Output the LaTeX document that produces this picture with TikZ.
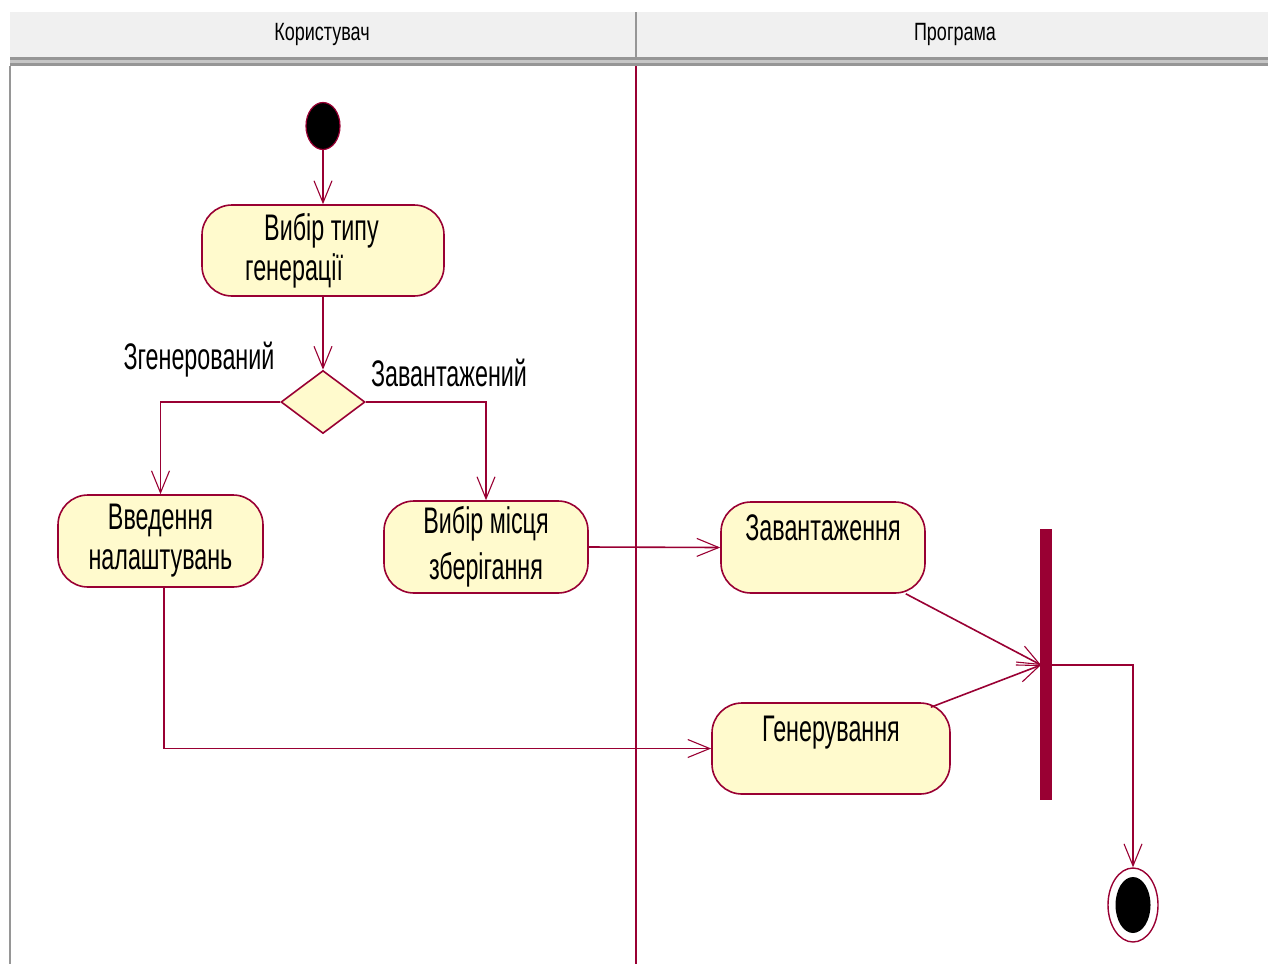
\documentclass[tikz,border=0pt]{standalone}
\usepackage{fontspec}
\setmainfont[FakeStretch=0.63]{Liberation Sans}
\newfontfamily\lanefont[FakeStretch=0.72]{Liberation Sans}
\usetikzlibrary{arrows.meta,shapes.geometric}
\definecolor{rose}{RGB}{153,0,51}
\definecolor{actfill}{RGB}{255,250,205}
\definecolor{hdrfill}{RGB}{240,240,240}
\definecolor{hdrline}{RGB}{150,150,150}
\tikzset{
  flow/.style={draw=rose, line width=1.6pt,
    -{Straight Barb[length=22pt,width=18pt,line width=1.1pt]}},
  act/.style={draw=rose, fill=actfill, line width=1.6pt, rounded corners=30pt,
    inner sep=0pt, align=center, font=\fontsize{37}{40}\selectfont},
  guard/.style={inner sep=0pt, font=\fontsize{37}{40}\selectfont},
  lanetitle/.style={inner sep=0pt, font=\lanefont\fontsize{25}{28}\selectfont},
  decision/.style={diamond, draw=rose, fill=actfill, line width=1.6pt, inner sep=0pt},
  startstate/.style={ellipse, draw=rose, fill=black, line width=1.2pt, inner sep=0pt},
  bar/.style={fill=rose, draw=none, inner sep=0pt}
}
\begin{document}
\begin{tikzpicture}[x=1pt,y=-1pt]
\useasboundingbox (0,0) rectangle (1268,964);

% swimlane header
\fill[hdrfill] (10,12) rectangle (1268,57);
\fill[hdrline] (10,57) rectangle (1268,66);
\fill[gray!45] (10,60) rectangle (1268,63);
\draw[hdrline, line width=1.2pt] (636,12) -- (636,57);
\draw[hdrline, line width=1.2pt] (10,66) -- (10,964);
\node[lanetitle] (lane1) at (322,34) {Користувач};
\node[lanetitle] (lane2) at (955,34) {Програма};

% lane divider
\draw[rose, line width=1.4pt] (636,66) -- (636,964);

% states
\node[startstate, minimum width=34pt, minimum height=47pt] (start) at (323,126) {};
\node[act, align=left, minimum width=242pt, minimum height=91pt] (choose) at (323,250.5)
  {\hspace*{19pt}Вибір типу\hspace*{22pt}\\генерації};
\node[decision, minimum width=84pt, minimum height=63pt] (dec) at (323,402) {};
\node[act, minimum width=205pt, minimum height=92pt] (settings) at (160.5,541)
  {\hspace*{10pt}Введення\hspace*{10pt}\\налаштувань};
\node[act, minimum width=204pt, minimum height=92pt] (place) at (486,547)
  {Вибір місця\\[6pt]зберігання};
\node[act, minimum width=204pt, minimum height=91pt] (load) at (823,547.5)
  {Завантаження\\\mbox{}};
\node[act, minimum width=238pt, minimum height=91pt] (gen) at (831,748.5)
  {Генерування\\\mbox{}};
\node[bar, minimum width=12pt, minimum height=271pt] (join) at (1046,664.5) {};
\node[ellipse, draw=rose, fill=white, line width=1.4pt, minimum width=50pt,
  minimum height=74pt, inner sep=0pt] (end) at (1133,905) {};
\node[ellipse, fill=black, minimum width=35pt, minimum height=56pt, inner sep=0pt]
  (endcore) at (end.center) {};

% guard labels
\node[guard] (gA) at (199,360) {Згенерований};
\node[guard] (gB) at (449,373) {Завантажений};

% transitions
\draw[flow] (start) -- (choose);
\draw[flow] (choose) -- (dec);
\draw[flow] (dec.west) -| (settings.north);
\draw[flow] (dec.east) -| (place.north);
\draw[flow] (place.east) -- (load.west);
\coordinate (turn) at (164,748.5);
\draw[flow] (settings.south -| turn) -- (turn) -- (gen.west);
\coordinate (joinin) at (1041,665);
\draw[flow] ([xshift=-20pt]load.south east) -- (joinin);
\draw[flow] ([xshift=-20pt,yshift=-5pt]gen.north east) -- (joinin);
\draw[flow] (join.east |- joinin) -| (end.north);
\end{tikzpicture}
\end{document}
